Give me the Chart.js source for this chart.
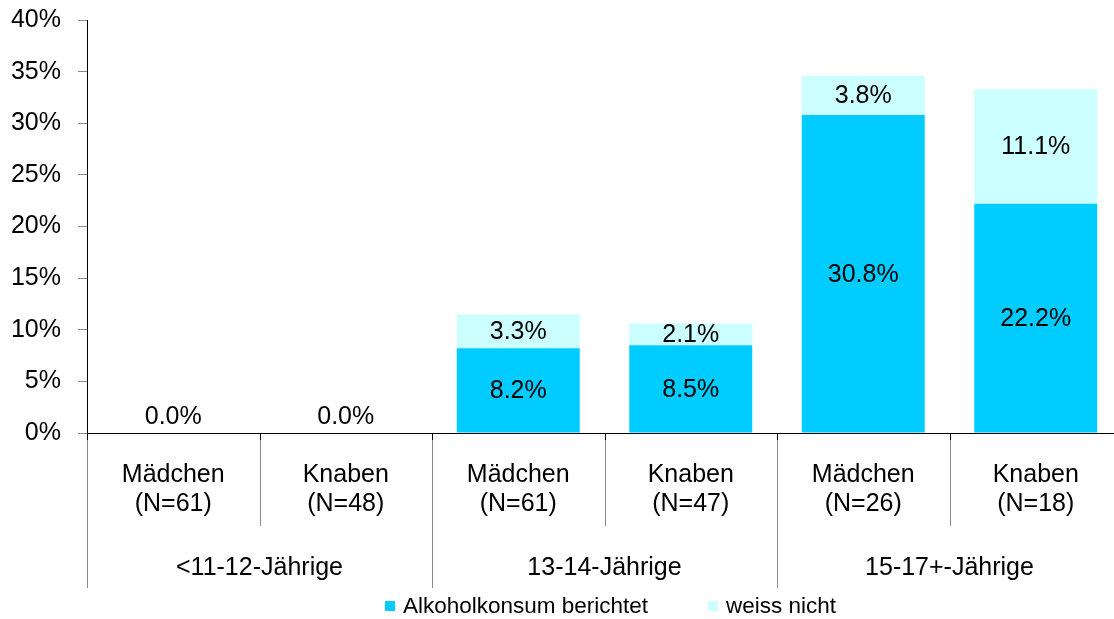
<!DOCTYPE html>
<html>
<head>
<meta charset="utf-8">
<script src="https://cdn.jsdelivr.net/npm/chart.js@4.4.1/dist/chart.umd.min.js"></script>
<style>
  html, body { margin: 0; padding: 0; overflow: hidden; background: #fff; width: 1114px; height: 619px; }
  #wrap { width: 1130px; height: 619px; }
</style>
</head>
<body>
<div id="wrap"><canvas id="chart" width="1130" height="619"></canvas></div>
<script>
// Categories: sex and sample size, grouped by age band
const categories = [
  ['Mädchen', '(N=61)'], ['Knaben', '(N=48)'],
  ['Mädchen', '(N=61)'], ['Knaben', '(N=47)'],
  ['Mädchen', '(N=26)'], ['Knaben', '(N=18)']
];
const ageGroups = ['<11-12-Jährige', '13-14-Jährige', '15-17+-Jährige'];

// Shares in percent
const alkoholkonsum = [0.0, 0.0, 8.2, 8.5, 30.8, 22.2];
const weissNicht    = [0.0, 0.0, 3.3, 2.1, 3.8, 11.1];
const seriesNames   = ['Alkoholkonsum berichtet', 'weiss nicht'];
const seriesColors  = ['#00CCFF', '#CCFFFF'];

// Value axis
const yMin = 0, yMax = 40, yStep = 5;

const FONT = '"Liberation Sans", Arial, sans-serif';

// Draws age-group labels, category separators, value labels and the legend
const decorations = {
  id: 'decorations',
  afterDraw(chart) {
    const { ctx, chartArea: a, scales: { x } } = chart;
    const n = categories.length;
    const edge = i => i === 0 ? a.left : i === n ? a.right
      : (x.getPixelForValue(i - 1) + x.getPixelForValue(i)) / 2;

    ctx.save();
    ctx.lineWidth = 1;
    // separators below the axis
    for (let i = 0; i <= n; i++) {
      const px = Math.round(edge(i)) + 0.5;
      const bottom = a.bottom + (i % 2 === 0 ? 155 : 93);
      ctx.strokeStyle = '#000';
      ctx.beginPath(); ctx.moveTo(px, a.bottom); ctx.lineTo(px, a.bottom + 7); ctx.stroke();
      ctx.strokeStyle = '#8c8c8c';
      ctx.beginPath(); ctx.moveTo(px, a.bottom + 7); ctx.lineTo(px, bottom); ctx.stroke();
    }

    // age group labels
    ctx.fillStyle = '#000';
    ctx.font = '25px ' + FONT;
    ctx.textAlign = 'center';
    ctx.textBaseline = 'middle';
    ageGroups.forEach((g, k) => {
      const cx = (edge(2 * k) + edge(2 * k + 2)) / 2;
      ctx.fillText(g, cx, a.bottom + 135);
    });

    // value labels inside the stacked segments
    chart.data.datasets.forEach((ds, di) => {
      const meta = chart.getDatasetMeta(di);
      meta.data.forEach((bar, i) => {
        const v = ds.data[i];
        const txt = v.toFixed(1) + '%';
        if (v === 0) {
          if (di > 0) return;
          ctx.fillText(txt, bar.x, bar.base - 16);
        } else {
          ctx.fillText(txt, bar.x, (bar.y + bar.base) / 2 + 1);
        }
      });
    });

    // legend
    ctx.font = '22.5px ' + FONT;
    ctx.textAlign = 'left';
    const box = 10, boxGap = 8, itemGap = 60;
    const widths = chart.data.datasets.map(ds => ctx.measureText(ds.label).width);
    const total = widths.reduce((s, w) => s + box + boxGap + w, 0) + itemGap * (widths.length - 1);
    let lx = (a.left + a.right) / 2 + 6 - total / 2;
    const ly = 606;
    chart.data.datasets.forEach((ds, di) => {
      ctx.fillStyle = ds.backgroundColor;
      ctx.fillRect(Math.round(lx), ly - 5, box, box);
      ctx.fillStyle = '#000';
      ctx.fillText(ds.label, lx + box + boxGap, ly + 1);
      lx += box + boxGap + widths[di] + itemGap;
    });
    ctx.restore();
  }
};

new Chart(document.getElementById('chart'), {
  type: 'bar',
  data: {
    labels: categories,
    datasets: [
      { label: seriesNames[0], data: alkoholkonsum, backgroundColor: seriesColors[0],
        borderWidth: 0, barPercentage: 0.713, categoryPercentage: 1 },
      { label: seriesNames[1], data: weissNicht, backgroundColor: seriesColors[1],
        borderWidth: 0, barPercentage: 0.713, categoryPercentage: 1 }
    ]
  },
  options: {
    responsive: false,
    animation: false,
    devicePixelRatio: 1,
    layout: { padding: { top: 20, left: 0, right: 8, bottom: 0 } },
    plugins: { legend: { display: false }, tooltip: { enabled: false } },
    scales: {
      x: {
        stacked: true,
        grid: { display: false, drawTicks: false },
        border: { display: true, color: '#000', width: 1 },
        ticks: {
          color: '#000', font: { family: FONT, size: 25, lineHeight: 1.15 },
          padding: 28, maxRotation: 0, autoSkip: false
        },
        afterFit(scale) { scale.height = 186; }
      },
      y: {
        stacked: true,
        min: yMin, max: yMax,
        grid: { drawOnChartArea: false, tickLength: 9, color: '#8c8c8c', tickColor: '#8c8c8c' },
        border: { display: true, color: '#000', width: 1 },
        ticks: {
          stepSize: yStep, color: '#000', padding: 17,
          font: { family: FONT, size: 25 },
          callback: v => v + '%'
        },
        afterFit(scale) {
          scale.width = 87;
          scale.paddingTop = 0;
          scale.paddingBottom = 0;
        }
      }
    }
  },
  plugins: [decorations]
});
</script>
</body>
</html>
